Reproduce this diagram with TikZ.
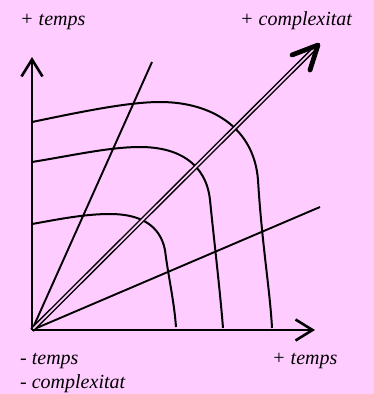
\documentclass[tikz,border=0pt]{standalone}
\usepackage{fontspec}
\setmainfont{Liberation Serif}
\usetikzlibrary{arrows.meta,calc}
\definecolor{bgpink}{RGB}{255,204,255}
\begin{document}
\begin{tikzpicture}[x=1pt,y=-1pt,
  axis/.style={line width=2.6pt,-{Straight Barb[length=17pt,width=21pt,line width=2.6pt]}},
  curve/.style={line width=2pt},
  ray/.style={line width=1.9pt},
  lbl/.style={font=\fontsize{20}{24}\selectfont\itshape,anchor=base west,inner sep=0pt}]
\fill[bgpink] (0,0) rectangle (374,394);
\useasboundingbox (0,0) rectangle (374,394);
\coordinate (O) at (32,330);
\coordinate (Y) at (32,57);
\coordinate (X) at (315,330);
\coordinate (R1) at (152,62);
\coordinate (R2) at (320,207);
\coordinate (T) at (318,45);
\coordinate (Ts) at (313,50);
% curves
\draw[curve] (32,122) .. controls (80,112) and (128,102) .. (160,102)
  .. controls (212,102) and (254,128) .. (258,180)
  .. controls (262,245) and (270,290) .. (272,328);
\draw[curve] (32,162) .. controls (75,155) and (110,147) .. (140,147)
  .. controls (178,147) and (206,163) .. (210,200)
  .. controls (214,240) and (220,290) .. (223,328);
\draw[curve] (32,224) .. controls (60,219) and (85,214) .. (110,214)
  .. controls (140,214) and (160,225) .. (165,250)
  .. controls (168,275) and (174,300) .. (176,327);
% rays
\draw[ray] (O) -- (R1);
\draw[ray] (O) -- (R2);
% double arrow
\draw[line width=1.5pt,double=bgpink,double distance=1.7pt] (O) -- (Ts);
\draw[line width=4.8pt,line cap=round,line join=round] ($(T)+(-26,10)$) -- (T) -- ($(T)+(-8,25)$);
% axes
\draw[axis] (O) -- (Y);
\draw[axis] (O) -- (X);
% labels
\node[lbl] (lt) at (20,25) {+ temps};
\node[lbl] (lc) at (240,25) {+ complexitat};
\node[lbl] (bt) at (20,364) {- temps};
\node[lbl] (bc) at (20,388) {- complexitat};
\node[lbl] (rt) at (272,364) {+ temps};
\end{tikzpicture}
\end{document}
